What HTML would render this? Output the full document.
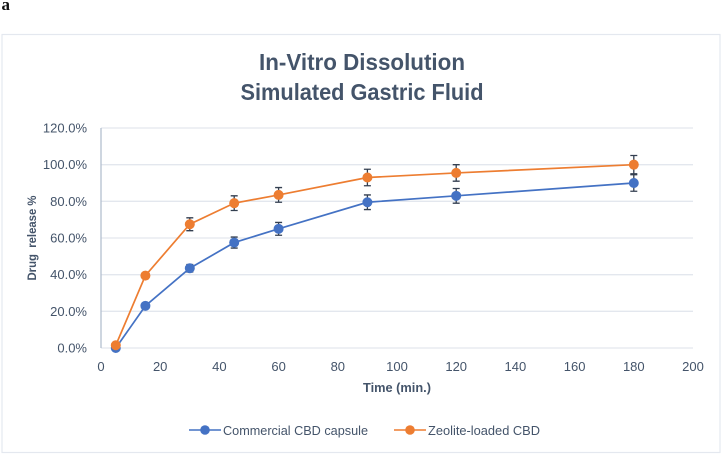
<!DOCTYPE html>
<html lang="en">
<head>
<meta charset="utf-8">
<title>In-Vitro Dissolution Simulated Gastric Fluid</title>
<style>
html,body{margin:0;padding:0;background:#fff;}
body{width:724px;height:456px;overflow:hidden;}
svg{display:block;font-family:"Liberation Sans",sans-serif;}
</style>
</head>
<body>
<svg id="chart" width="724" height="456" viewBox="0 0 724 456" xmlns="http://www.w3.org/2000/svg">
<text x="1.5" y="10" font-family="'Liberation Serif',serif" font-weight="bold" font-size="17" fill="#111">a</text>
<rect x="2" y="34.5" width="718" height="418" fill="#fff" stroke="#e4e8ef" stroke-width="1.2"/>
<text x="362" y="70" text-anchor="middle" font-size="23" font-weight="bold" fill="#44546a" textLength="206" lengthAdjust="spacingAndGlyphs">In-Vitro Dissolution</text>
<text x="362" y="100" text-anchor="middle" font-size="23" font-weight="bold" fill="#44546a" textLength="243" lengthAdjust="spacingAndGlyphs">Simulated Gastric Fluid</text>
<g id="grid"></g>
<g id="axes"></g>
<g id="series"></g>
<text transform="translate(36 238) rotate(-90)" text-anchor="middle" font-size="12" font-weight="bold" fill="#44546a" textLength="85" lengthAdjust="spacingAndGlyphs" style="white-space:pre">Drug  release %</text>
<text x="397" y="392" text-anchor="middle" font-size="12.5" font-weight="bold" fill="#44546a" textLength="68" lengthAdjust="spacingAndGlyphs">Time (min.)</text>
<g>
<g>
<line x1="189" y1="430" x2="221" y2="430" stroke="#4472c4" stroke-width="1.6"/>
<circle cx="205" cy="430" r="4.8" fill="#4472c4"/>
<text x="223" y="435" font-size="13" fill="#44546a" textLength="145" lengthAdjust="spacingAndGlyphs">Commercial CBD capsule</text>
</g>
<g>
<line x1="394" y1="430" x2="426" y2="430" stroke="#ed7d31" stroke-width="1.6"/>
<circle cx="410" cy="430" r="4.8" fill="#ed7d31"/>
<text x="428" y="435" font-size="13" fill="#44546a" textLength="112" lengthAdjust="spacingAndGlyphs">Zeolite-loaded CBD</text>
</g>
</g>
</svg>
<script>
const times = [5, 15, 30, 45, 60, 90, 120, 180];
const commercial = [0, 23, 43.5, 57.5, 65, 79.5, 83, 90];
const commercialErr = [0.5, 1, 2, 3, 3.5, 4, 4, 4.5];
const zeolite = [1.5, 39.5, 67.5, 79, 83.5, 93, 95.5, 100];
const zeoliteErr = [0.5, 1.5, 3.5, 4, 4, 4.5, 4.5, 5];
const xTicks = [0, 20, 40, 60, 80, 100, 120, 140, 160, 180, 200];
const yTicks = [0, 20, 40, 60, 80, 100, 120];

const NS = 'http://www.w3.org/2000/svg';
const sx = v => 101 + v * (693 - 101) / 200;
const sy = v => 348 - v * (348 - 128) / 120;
function mk(parent, tag, attrs, text) {
  const el = document.createElementNS(NS, tag);
  for (const k in attrs) el.setAttribute(k, attrs[k]);
  if (text !== undefined) el.textContent = text;
  parent.appendChild(el);
  return el;
}
const grid = document.getElementById('grid');
const axes = document.getElementById('axes');
const seriesG = document.getElementById('series');

yTicks.forEach(t => {
  const g = mk(grid, 'line', {x1: sx(0), x2: sx(200), y1: sy(t), y2: sy(t), stroke: '#e3e7ee', 'stroke-width': 1.3});
  
  
  const l = mk(axes, 'text', {x: 87, y: sy(t) + 4.5, 'text-anchor': 'end', 'font-size': 13, fill: '#44546a'}, t.toFixed(1) + '%');
  
  
});
const yAxis = mk(axes, 'line', {x1: sx(0), x2: sx(0), y1: sy(120), y2: sy(0), stroke: '#b4bfcf', 'stroke-width': 1.3});


xTicks.forEach(t => {
  const l = mk(axes, 'text', {x: sx(t), y: 371, 'text-anchor': 'middle', 'font-size': 13, fill: '#44546a'}, String(t));
  
  
});

function drawSeries(name, values, errs, color) {
  const g = mk(seriesG, 'g', {});
  
  
  const pts = times.map((t, i) => sx(t) + ',' + sy(values[i])).join(' ');
  const line = mk(g, 'polyline', {points: pts, fill: 'none', stroke: color, 'stroke-width': 1.7});
  
  
  times.forEach((t, i) => {
    const x = sx(t);
    const top = sy(values[i] + errs[i]);
    const bot = sy(values[i] - errs[i]);
    const eb = mk(g, 'path', {
      d: 'M' + x + ' ' + top + 'V' + bot + 'M' + (x - 3.5) + ' ' + top + 'H' + (x + 3.5) + 'M' + (x - 3.5) + ' ' + bot + 'H' + (x + 3.5),
      stroke: '#333f50', 'stroke-width': 1.3, fill: 'none'
    });
    
    
  });
  times.forEach((t, i) => {
    const c = mk(g, 'circle', {cx: sx(t), cy: sy(values[i]), r: 5, fill: color});
    
    
  });
}
drawSeries('commercial', commercial, commercialErr, '#4472c4');
drawSeries('zeolite', zeolite, zeoliteErr, '#ed7d31');
</script>
</body>
</html>
